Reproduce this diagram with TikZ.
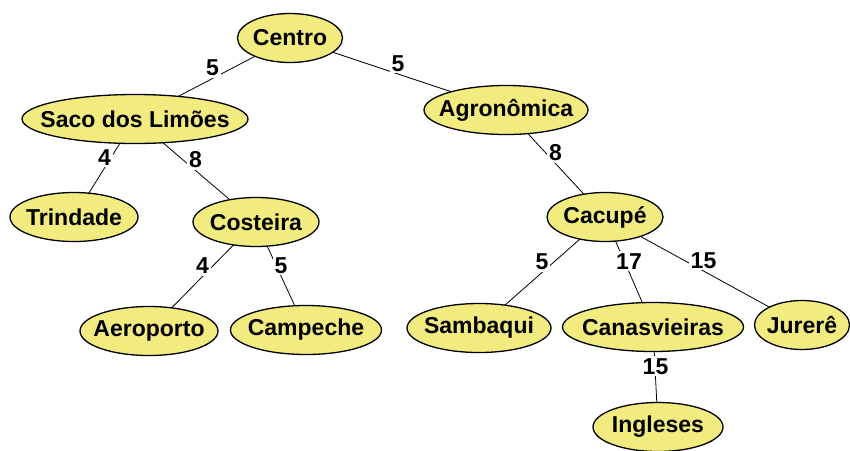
\documentclass[tikz,border=0pt]{standalone}
\usepackage{fontspec}
\setmainfont{Liberation Sans}
\usepackage{tikz}
\usetikzlibrary{shapes.geometric,backgrounds}
\definecolor{placeyellow}{RGB}{242,235,128}

\begin{document}
\begin{tikzpicture}[
    x=1pt,y=-1pt,
    place/.style={ellipse,draw,line width=1.3pt,fill=placeyellow,inner sep=0pt,minimum height=49pt,font=\fontsize{23}{26}\selectfont\bfseries},
    road/.style={line width=0.8pt},
    dist/.style={midway,anchor=base,yshift=3pt,fill=white,inner sep=2pt,font=\fontsize{23}{26}\selectfont\bfseries},
]
\useasboundingbox (0,0) rectangle (850,450);

% ===== Root =====
\node[place,minimum width=105pt] (centro) at (290,38) {\makebox[0pt]{Centro}};

% ===== Left branch =====
\node[place,minimum width=226pt] (saco) at (135,119) {\makebox[0pt]{Saco dos Limões}};
\node[place,minimum width=128pt] (trindade) at (74,217) {\makebox[0pt]{Trindade}};
\node[place,minimum width=126pt] (costeira) at (256,222) {\makebox[0pt]{Costeira}};
\node[place,minimum width=138pt] (aeroporto) at (149,331) {\makebox[0pt]{Aeroporto}};
\node[place,minimum width=151pt] (campeche) at (306,330) {\makebox[0pt]{Campeche}};

% ===== Right branch =====
\node[place,minimum width=164pt] (agronomica) at (506,110) {\makebox[0pt]{Agronômica}};
\node[place,minimum width=116pt] (cacupe) at (605,217) {\makebox[0pt]{Cacupé}};
\node[place,minimum width=144pt] (sambaqui) at (479,328) {\makebox[0pt]{Sambaqui}};
\node[place,minimum width=181pt] (canasvieiras) at (653,327) {\makebox[0pt]{Canasvieiras}};
\node[place,minimum width=95pt] (jurere) at (802,325) {\makebox[0pt]{Jurerê}};
\node[place,minimum width=130pt] (ingleses) at (658,427) {\makebox[0pt]{Ingleses}};

% ===== Roads with distances =====
\begin{scope}[on background layer]
    \draw[road] (centro.center) -- node[dist] {5} (saco.center);
    \draw[road] (centro.center) -- node[dist] {5} (agronomica.center);
    \draw[road] (saco.center) -- node[dist] {4} (trindade.center);
    \draw[road] (saco.center) -- node[dist] {8} (costeira.center);
    \draw[road] (costeira.center) -- node[dist] {4} (aeroporto.center);
    \draw[road] (costeira.center) -- node[dist] {5} (campeche.center);
    \draw[road] (agronomica.center) -- node[dist] {8} (cacupe.center);
    \draw[road] (cacupe.center) -- node[dist] {5} (sambaqui.center);
    \draw[road] (cacupe.center) -- node[dist] {17} (canasvieiras.center);
    \draw[road] (cacupe.center) -- node[dist] {15} (jurere.center);
    \draw[road] (canasvieiras.center) -- node[dist] {15} (ingleses.center);
\end{scope}

\end{tikzpicture}
\end{document}
